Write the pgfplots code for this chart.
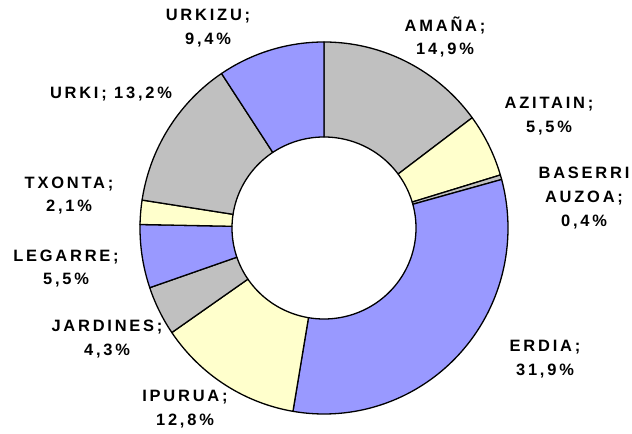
\documentclass[border=0pt]{standalone}
\usepackage{pgfplots}
\pgfplotsset{compat=1.18}
\usepackage{pgfplotstable}
\usepackage{fontspec}
\setmainfont{Liberation Sans}
\newfontfamily\labfont[LetterSpace=17]{Liberation Sans Bold}
\definecolor{cblue}{HTML}{9999FF}
\definecolor{cgray}{HTML}{C0C0C0}
\definecolor{cyel}{HTML}{FFFFCC}

\pgfplotstableread{
name val col
AMANA 14.9 cgray
AZITAIN 5.5 cyel
BASERRI 0.4 cgray
ERDIA 31.9 cblue
IPURUA 12.8 cyel
JARDINES 4.3 cgray
LEGARRE 5.5 cblue
TXONTA 2.1 cyel
URKI 13.2 cgray
URKIZU 9.4 cblue
}\slices

\begin{document}
\begin{tikzpicture}
\gdef\cum{0}
\foreach \i in {0,...,9}{
  \pgfplotstablegetelem{\i}{val}\of\slices
  \pgfmathsetmacro\v{\pgfplotsretval}
  \pgfplotstablegetelem{\i}{col}\of\slices
  \expandafter\xdef\csname slicecol\i\endcsname{\pgfplotsretval}
  \pgfmathsetmacro\a{90-3.6*\cum}
  \pgfmathsetmacro\b{90-3.6*(\cum+\v)}
  \pgfmathtruncatemacro\n{max(2,ceil(3.6*\v))}
  \gdef\pts{}
  \foreach \k in {0,...,\n}{
    \pgfmathsetmacro\t{\a+(\b-\a)*\k/\n}
    \pgfmathsetmacro\px{324+184*cos(\t)}
    \pgfmathsetmacro\py{206+186*sin(\t)}
    \xdef\pts{\pts (\px,\py)}
  }
  \foreach \k in {\n,...,0}{
    \pgfmathsetmacro\t{\a+(\b-\a)*\k/\n}
    \pgfmathsetmacro\px{324+92*cos(\t)}
    \pgfmathsetmacro\py{206+91*sin(\t)}
    \xdef\pts{\pts (\px,\py)}
  }
  \expandafter\xdef\csname slicecoords\i\endcsname{\pts}
  \pgfmathsetmacro\newcum{\cum+\v}
  \xdef\cum{\newcum}
}
\path[use as bounding box] (0,0) rectangle (632bp,434bp);
\begin{axis}[at={(0,0)}, anchor=south west, width=632bp, height=434bp,
  scale only axis, xmin=0, xmax=632, ymin=0, ymax=434, hide axis, clip=false]
\pgfplotsforeachungrouped \i in {0,...,9}{
  \edef\tmp{\noexpand\addplot[fill=\csname slicecol\i\endcsname, draw=black, line width=1.3bp, line join=round] coordinates {\csname slicecoords\i\endcsname} -- cycle;}
  \tmp
}
\tikzset{lab/.style={align=center, font=\labfont\fontsize{16.5}{24}\selectfont, inner sep=0pt}}
\node[lab] at (axis cs:208,405.5) {URKIZU;\\9,4\%};
\node[lab] at (axis cs:445,397) {AMAÑA;\\14,9\%};
\node[lab] at (axis cs:549,317.5) {AZITAIN;\\5,5\%};
\node[lab] at (axis cs:584,236) {BASERRI\\AUZOA;\\0,4\%};
\node[lab] at (axis cs:545,75) {ERDIA;\\31,9\%};
\node[lab] at (axis cs:185,25) {IPURUA;\\12,8\%};
\node[lab] at (axis cs:107,95) {JARDINES;\\4,3\%};
\node[lab] at (axis cs:66,165.5) {LEGARRE;\\5,5\%};
\node[lab] at (axis cs:69,238.5) {TXONTA;\\2,1\%};
\node[lab] at (axis cs:111,340) {URKI; 13,2\%};
\end{axis}
\end{tikzpicture}
\end{document}
